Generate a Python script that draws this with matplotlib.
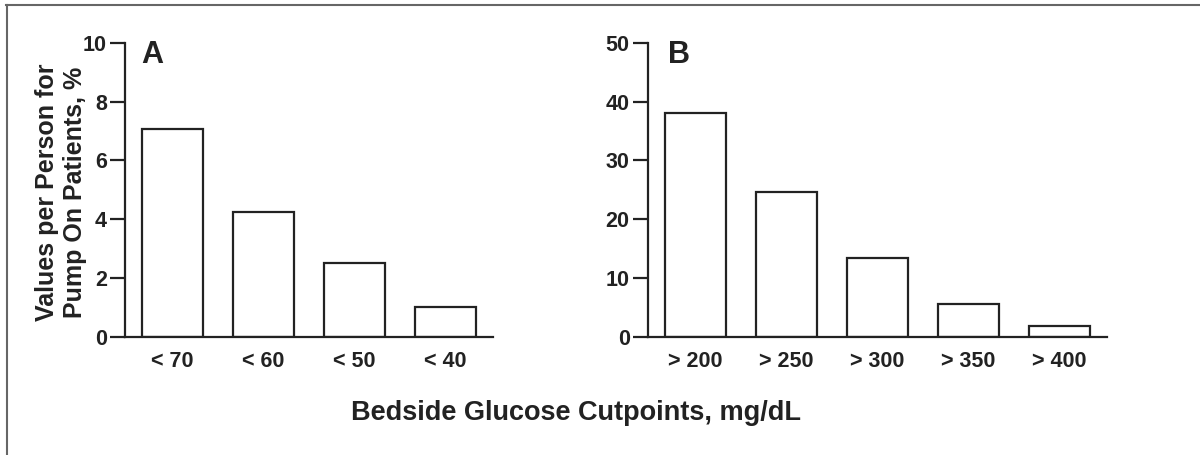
import matplotlib.pyplot as plt
from matplotlib.lines import Line2D

labels_a = ['< 70', '< 60', '< 50', '< 40']
values_a = [7.06, 4.24, 2.52, 1.01]
labels_b = ['> 200', '> 250', '> 300', '> 350', '> 400']
values_b = [38.1, 24.7, 13.35, 5.65, 1.92]

plt.rcParams['font.family'] = ['Liberation Sans', 'DejaVu Sans']
plt.rcParams['font.weight'] = 'bold'

W, H = 1200, 455
INK = '#222222'
fig = plt.figure(figsize=(12, 4.55), dpi=100)

def px_axes(left, right, top, bottom):
    return fig.add_axes([left / W, 1 - bottom / H, (right - left) / W, (bottom - top) / H])

ax_a = px_axes(125, 493, 42.7, 337)
ax_b = px_axes(647.7, 1107.3, 42.7, 337)

def style(ax, labels, values, ymax, step, letter):
    x = range(len(labels))
    ax.bar(x, values, width=0.665, color='white', edgecolor=INK, linewidth=1.6)
    ax.set_xlim(-0.525, len(labels) - 0.475)
    ax.set_ylim(0, ymax)
    ax.set_yticks(range(0, ymax + 1, step))
    ax.set_xticks(list(x))
    ax.set_xticklabels(labels)
    for s in ['top', 'right']:
        ax.spines[s].set_visible(False)
    for s in ['left', 'bottom']:
        ax.spines[s].set_linewidth(1.6)
        ax.spines[s].set_color(INK)
    ax.tick_params(axis='y', length=11, width=1.6, color=INK, labelsize=15.5, pad=2,
                   labelcolor=INK)
    ax.tick_params(axis='x', length=0, labelsize=15.5, pad=10, labelcolor=INK)
    ax.text(0.045, 1.01, letter, transform=ax.transAxes, fontsize=22, fontweight='bold',
            va='top', ha='left', color=INK)

style(ax_a, labels_a, values_a, 10, 2, 'A')
style(ax_b, labels_b, values_b, 50, 10, 'B')

fig.text(61 / W, 1 - 192 / H, 'Values per Person for\nPump On Patients, %', rotation=90,
         ha='center', va='center', fontsize=18, fontweight='bold', color=INK,
         linespacing=1.2, multialignment='center')

fig.text(576 / W, 1 - 413 / H, 'Bedside Glucose Cutpoints, mg/dL', ha='center', va='center',
         fontsize=19.5, fontweight='bold', color=INK)

# partial frame from the cropped figure border
fig.add_artist(Line2D([6 / W, 1], [1 - 5 / H, 1 - 5 / H], color='#666666', lw=1.5,
                      transform=fig.transFigure))
fig.add_artist(Line2D([7 / W, 7 / W], [0, 1 - 5 / H], color='#666666', lw=1.5,
                      transform=fig.transFigure))

fig.savefig('out.png', dpi=100)
